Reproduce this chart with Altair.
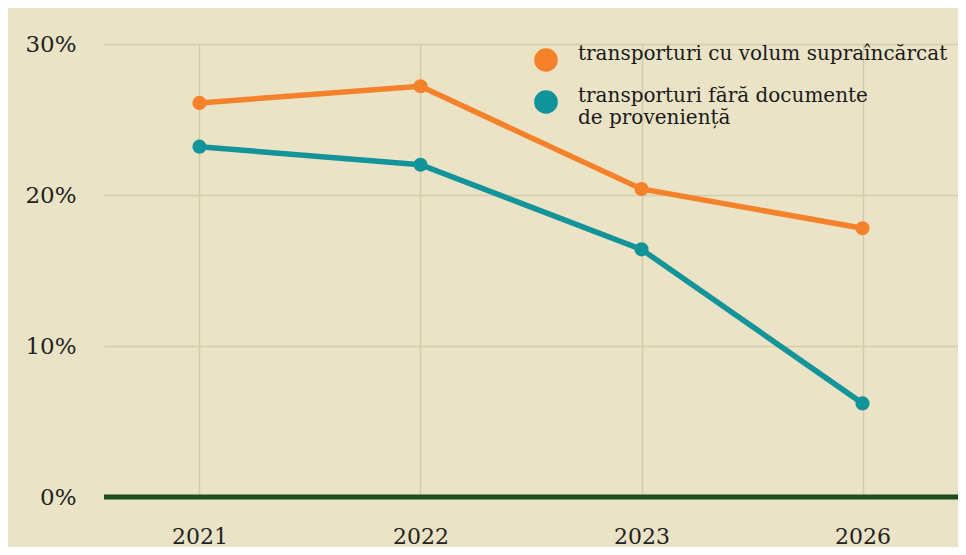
import altair as alt
import pandas as pd

years = ["2021", "2022", "2023", "2026"]
series_names = [
    "transporturi cu volum supraîncărcat",
    "transporturi fără documente|de proveniență",
]
overloaded = [26.1, 27.2, 20.4, 17.8]
no_docs = [23.2, 22.0, 16.4, 6.2]
y_ticks = [0, 10, 20, 30]
colors = ["#f5822a", "#13939a"]

rows = []
for y, v in zip(years, overloaded):
    rows.append({"year": y, "value": v, "series": series_names[0]})
for y, v in zip(years, no_docs):
    rows.append({"year": y, "value": v, "series": series_names[1]})
df = pd.DataFrame(rows)

font = "DejaVu Serif"

x_enc = alt.X(
    "year:N",
    sort=years,
    scale=alt.Scale(type="point", padding=0.432),
    axis=alt.Axis(
        title=None, domain=False, ticks=False, labelAngle=0,
        labelFont=font, labelFontSize=22, labelColor="#222222",
        labelPadding=29, grid=True, gridColor="#d6cba8", gridWidth=1.5,
    ),
)
y_enc = alt.Y(
    "value:Q",
    scale=alt.Scale(domain=[0, 30], nice=False),
    axis=alt.Axis(
        title=None, domain=False, ticks=False, values=y_ticks,
        labelExpr="datum.value + '%'",
        labelFont=font, labelFontSize=23, labelColor="#222222",
        labelPadding=28, grid=True, gridColor="#d6cba8", gridWidth=1.5,
    ),
)
color_enc = alt.Color(
    "series:N",
    sort=series_names,
    scale=alt.Scale(domain=series_names, range=colors),
    legend=alt.Legend(
        title=None, orient="none", legendX=430, legendY=4,
        symbolType="circle", symbolSize=560, symbolStrokeWidth=0,
        labelFont=font, labelFontSize=20, labelColor="#1a1a1a",
        labelExpr="split(datum.label, '|')", labelLimit=500,
        labelOffset=20, rowPadding=14, labelBaseline="alphabetic",
    ),
)

base = alt.Chart(df)
lines = base.mark_line(strokeWidth=5.5).encode(x=x_enc, y=y_enc, color=color_enc)
points = base.mark_circle(size=200, opacity=1).encode(
    x=x_enc, y=y_enc, color=alt.Color("series:N", sort=series_names,
                                       scale=alt.Scale(domain=series_names, range=colors),
                                       legend=None)
)
zero = alt.Chart(pd.DataFrame({"z": [0]})).mark_rule(
    color="#1d4a1f", strokeWidth=5
).encode(y=alt.Y("z:Q"))

chart = (
    alt.layer(lines, points, zero)
    .properties(
        width=854,
        height=453,
        background="#ebe3c6",
        padding={"left": 96, "top": 36, "right": 0, "bottom": 50},
        autosize=alt.AutoSizeParams(type="none"),
    )
    .configure_view(stroke=None)
)

chart.save("out.html", embed_options={"renderer": "svg", "actions": False})
